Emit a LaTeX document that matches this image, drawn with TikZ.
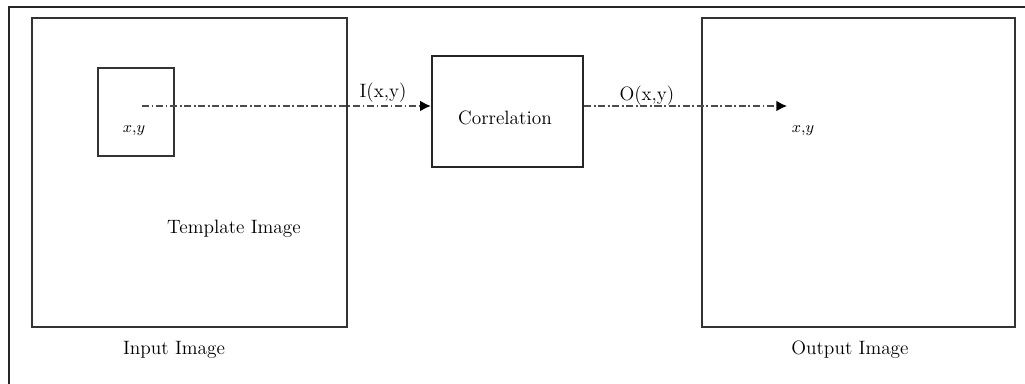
\documentclass[tikz,border=0pt]{standalone}
\usetikzlibrary{arrows.meta}
\begin{document}
\begin{tikzpicture}[x=0.02cm, y=-0.02cm, every node/.style={font=\fontsize{11}{13}\selectfont, inner sep=1pt}, imgbox/.style={draw=black!80, line width=1.6pt, minimum width=6.3cm, minimum height=6.18cm, inner sep=0pt}, flow/.style={draw=black!70, line width=0.8pt, dash pattern=on 4pt off 1.5pt on 1pt off 1.5pt, -{Latex[length=6pt, width=6pt, black]}}]
\useasboundingbox (0,0) rectangle (1025,384);
\draw[line width=1.3pt, black!85] (9,384) -- (9,7) -- (1025,7);  % frame

\node[imgbox] (inbox) at (189.5,172.5) {};
\node[draw=black!80, line width=1pt, minimum width=1.52cm, minimum height=1.76cm, inner sep=0pt] (tmpl) at (136,112) {};
\node[draw=black!85, line width=1.4pt, minimum width=3.02cm, minimum height=2.22cm, inner sep=0pt] (corr) at (507.5,111.5) {};
\node[imgbox, minimum width=6.26cm] (outbox) at (858.5,172.5) {};

\coordinate (start) at (142,106);
\coordinate (hit) at (787,106);
\draw[flow] (start) -- (start -| corr.west);
\draw[flow] (corr.east |- hit) -- (hit);

\node[font=\fontsize{9}{11}\selectfont] (xyin) at (134,131) {$x$,$y$};
\node[font=\fontsize{9}{11}\selectfont] (xyout) at (803,131) {$x$,$y$};
\node (ilbl) at (383,93) {I(x,y)};
\node (olbl) at (647,96) {O(x,y)};
\node (corrtxt) at (505,118) {Correlation};
\node (tmpltxt) at (234,229) {Template Image};
\node (intxt) at (174,350) {Input Image};
\node (outtxt) at (850,350) {Output Image};
\end{tikzpicture}
\end{document}
